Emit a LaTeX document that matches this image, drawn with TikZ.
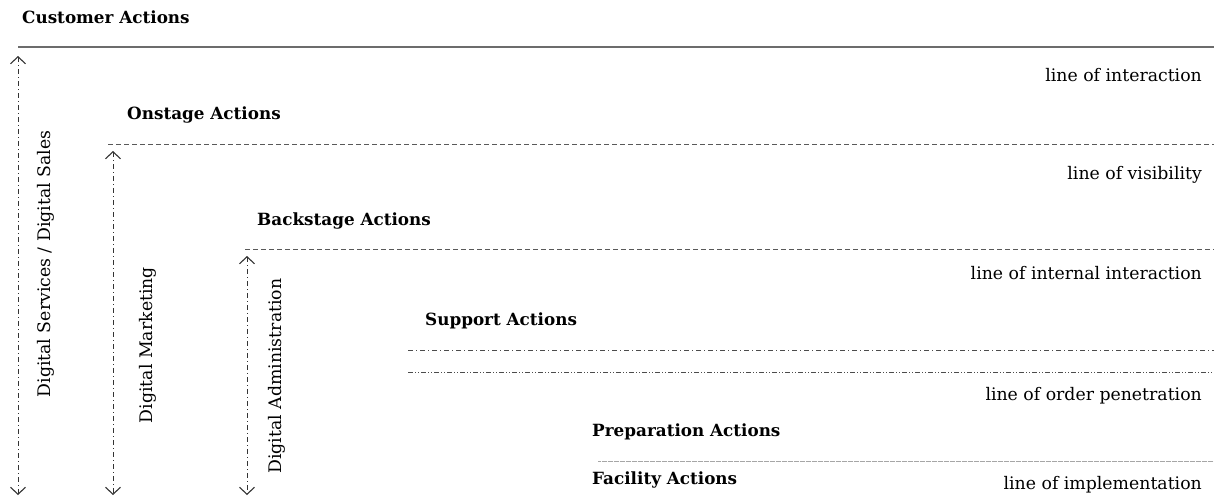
\documentclass[tikz,border=0pt]{standalone}
\usepackage{fontspec}
\setmainfont{DejaVu Serif}
\usetikzlibrary{arrows.meta}
\begin{document}
\begin{tikzpicture}[x=1pt,y=-1pt,
  head/.style={font=\bfseries\fontsize{16.8}{19}\selectfont, anchor=base west, inner sep=0pt},
  lineof/.style={font=\fontsize{17.3}{19}\selectfont, anchor=base east, inner sep=0pt},
  vlabel/.style={font=\fontsize{17.3}{19}\selectfont, rotate=90, inner sep=0pt},
  solidline/.style={draw=gray!85!black, line width=1.6pt},
  dashline/.style={draw=gray!70!black, line width=0.9pt, dash pattern=on 5pt off 3pt},
  dashdotline/.style={draw=gray!60!black, line width=0.9pt, dash pattern=on 5pt off 3pt on 1pt off 3pt},
  dashdotdotline/.style={draw=gray!60!black, line width=0.9pt, dash pattern=on 5pt off 2pt on 1pt off 2pt on 1pt off 2pt},
  dotline/.style={draw=gray!70, line width=0.8pt, dash pattern=on 0.6pt off 0.6pt},
  barb/.tip={Straight Barb[length=7pt,width=15pt,line width=1.1pt]},
  span/.style={draw=gray!40!black, line width=0.8pt, dash pattern=on 5pt off 3pt on 1pt off 3pt, barb-barb}
]
\useasboundingbox (0,0) rectangle (1214,499);

% headings
\node[head] (cust) at (22,23) {Customer Actions};
\node[head] (onst) at (127,119) {Onstage Actions};
\node[head] (back) at (257,225) {Backstage Actions};
\node[head] (supp) at (425,325) {Support Actions};
\node[head] (prep) at (592,436) {Preparation Actions};
\node[head] (faci) at (592,484) {Facility Actions};

% right labels
\node[lineof] (li) at (1202,81) {line of interaction};
\node[lineof] (lv) at (1202,179) {line of visibility};
\node[lineof] (lii) at (1202,279) {line of internal interaction};
\node[lineof] (lop) at (1202,400) {line of order penetration};
\node[lineof] (lim) at (1202,489) {line of implementation};

% horizontal lines
\coordinate (l1a) at (18,47);   \coordinate (l1b) at (1214,47);
\coordinate (l2a) at (108,144); \coordinate (l2b) at (1214,144);
\coordinate (l3a) at (245,249); \coordinate (l3b) at (1214,249);
\coordinate (l4a) at (408,350); \coordinate (l4b) at (1214,350);
\coordinate (l5a) at (408,372); \coordinate (l5b) at (1214,372);
\coordinate (l6a) at (598,461); \coordinate (l6b) at (1214,461);
\draw[solidline] (l1a) -- (l1b);
\draw[dashline] (l2a) -- (l2b);
\draw[dashline] (l3a) -- (l3b);
\draw[dashdotline] (l4a) -- (l4b);
\draw[dashdotdotline] (l5a) -- (l5b);
\draw[dotline] (l6a) -- (l6b);

% vertical spans
\coordinate (s1a) at (18,56);  \coordinate (s1b) at (18,495);
\coordinate (s2a) at (113,151); \coordinate (s2b) at (113,495);
\coordinate (s3a) at (247,256); \coordinate (s3b) at (247,495);
\draw[span] (s1a) -- (s1b);
\draw[span] (s2a) -- (s2b);
\draw[span] (s3a) -- (s3b);

\node[vlabel] (ds) at (46,264) {Digital Services / Digital Sales};
\node[vlabel] (dm) at (148,345) {Digital Marketing};
\node[vlabel] (da) at (277,376) {Digital Administration};
\end{tikzpicture}
\end{document}
